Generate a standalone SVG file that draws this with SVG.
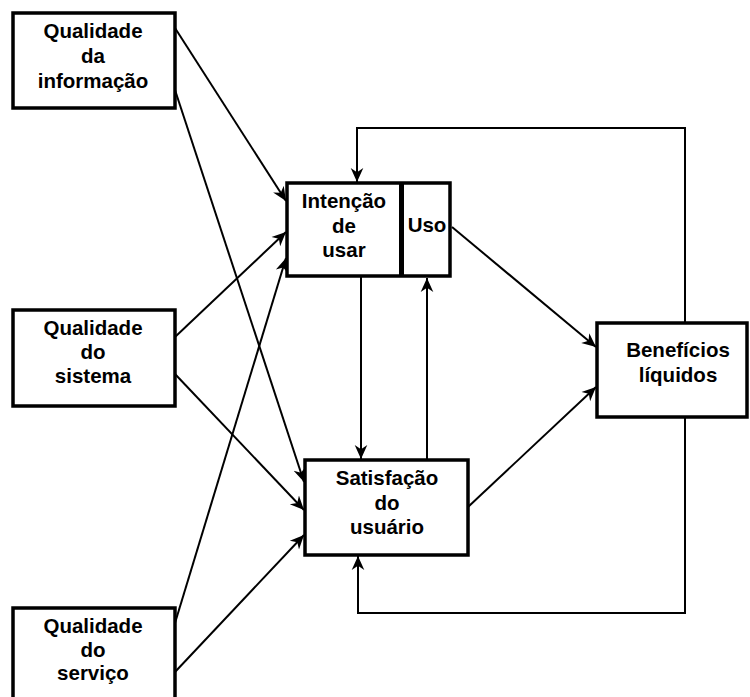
<svg xmlns="http://www.w3.org/2000/svg" width="750" height="697" viewBox="0 0 750 697">
<style>
.box{fill:#fff;stroke:#000;stroke-width:3.5}
.t{font-family:"Liberation Sans",Arial,sans-serif;font-weight:bold;font-size:20.5px;fill:#000;text-anchor:middle}
.c{fill:none;stroke:#000;stroke-width:2}
</style>
<defs>
<marker id="ahs" viewBox="0 0 10 10" refX="10" refY="5" markerWidth="14" markerHeight="14" markerUnits="userSpaceOnUse" orient="auto">
<path d="M0,0.5 L10,5 L0,9.5 L3,5 z" fill="#000"/>
</marker>
</defs>
<g id="connectors">
<path class="c" d="M175,28 L286,201" marker-end="url(#ahs)"/>
<path class="c" d="M175,90 L304,482" marker-end="url(#ahs)"/>
<path class="c" d="M175,337 L286,232" marker-end="url(#ahs)"/>
<path class="c" d="M175,374 L304,510" marker-end="url(#ahs)"/>
<path class="c" d="M175,623 L286,258" marker-end="url(#ahs)"/>
<path class="c" d="M175,672 L304,535" marker-end="url(#ahs)"/>
<path class="c" d="M452,227 L596,347" marker-end="url(#ahs)"/>
<path class="c" d="M468,507 L596,387" marker-end="url(#ahs)"/>
<path class="c" d="M361,277 L361,459" marker-end="url(#ahs)"/>
<path class="c" d="M427,460 L427,278" marker-end="url(#ahs)"/>
<path class="c" d="M685,323 L685,128 L357,128 L357,182" marker-end="url(#ahs)"/>
<path class="c" d="M685,417 L685,613 L358,613 L358,556" marker-end="url(#ahs)"/>
</g>
<g id="info">
<rect class="box" x="13" y="13" width="162" height="95"/>
<text class="t" x="93" y="38">Qualidade</text>
<text class="t" x="93" y="63">da</text>
<text class="t" x="93" y="88">informação</text>
</g>
<g id="sistema">
<rect class="box" x="13" y="310" width="162" height="96"/>
<text class="t" x="93" y="335">Qualidade</text>
<text class="t" x="93" y="359">do</text>
<text class="t" x="93" y="383">sistema</text>
</g>
<g id="servico">
<rect class="box" x="13" y="608" width="162" height="100"/>
<text class="t" x="93" y="633">Qualidade</text>
<text class="t" x="93" y="657">do</text>
<text class="t" x="93" y="680">serviço</text>
</g>
<g id="intencao">
<rect class="box" x="287" y="183" width="163" height="93"/>
<rect x="399" y="183" width="5" height="93" fill="#000"/>
<text class="t" x="344" y="208">Intenção</text>
<text class="t" x="344" y="233">de</text>
<text class="t" x="344" y="257">usar</text>
</g>
<g id="uso">
<text class="t" x="427" y="232">Uso</text>
</g>
<g id="satisfacao">
<rect class="box" x="305" y="460" width="163" height="95"/>
<text class="t" x="387" y="485">Satisfação</text>
<text class="t" x="387" y="510">do</text>
<text class="t" x="387" y="534">usuário</text>
</g>
<g id="beneficios">
<rect class="box" x="597" y="323" width="150" height="94"/>
<text class="t" x="678" y="357">Benefícios</text>
<text class="t" x="678" y="382">líquidos</text>
</g>
</svg>
